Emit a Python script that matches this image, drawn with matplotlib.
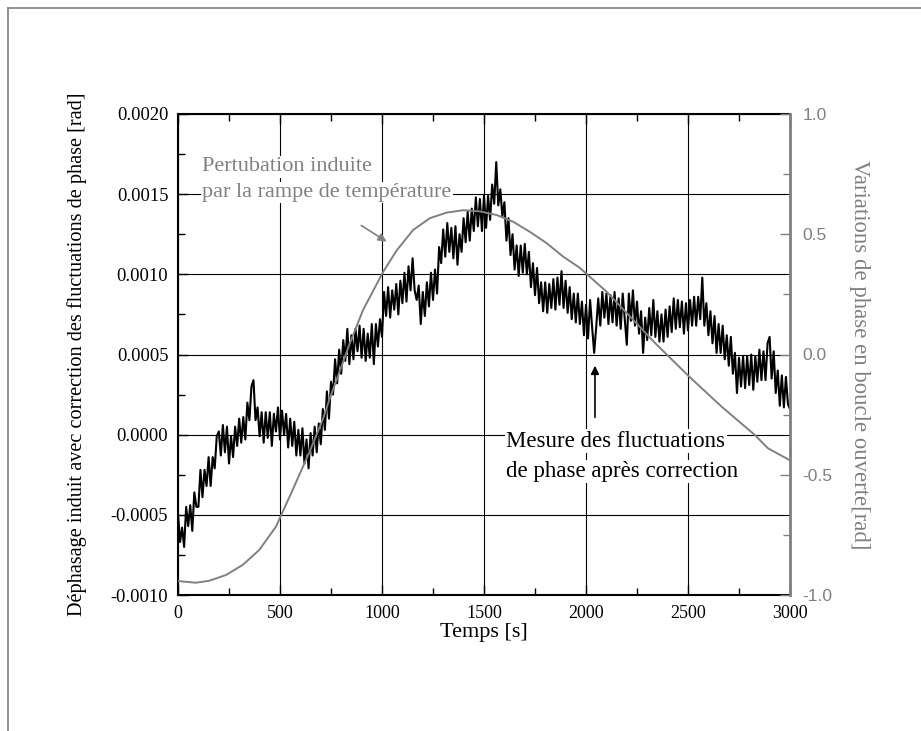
import numpy as np
import matplotlib
matplotlib.use("Agg")
import matplotlib.pyplot as plt
from matplotlib.lines import Line2D
from matplotlib.ticker import MultipleLocator

# ---------------- data ----------------
# measured phase fluctuations after correction, sampled every 10 s, in units of 1e-4 rad
time_step = 10
phase_corr_e4 = [
    -4.9, -6.7, -5.8, -7.0, -4.5, -5.7, -4.4, -6.0, -3.6, -4.5,
    -4.5, -2.2, -3.9, -2.2, -3.2, -1.4, -3.2, -1.4, -2.1, -0.1,
    0.2, -1.3, 0.6, -1.1, 0.5, -1.8, -0.1, -1.4, 0.5, -0.7,
    1.0, -0.5, 1.1, -0.3, 2.0, 0.9, 3.0, 3.4, 0.9, 1.7,
    -0.1, 1.4, -0.5, 1.4, -0.2, 1.4, -0.7, 1.3, 0.2, 1.7,
    -0.3, 1.5, 0.0, 1.3, -0.8, 1.0, -0.7, 0.8, -1.3, 0.3,
    -1.3, 0.4, -1.8, -0.3, -2.1, 0.1, -1.3, 0.5, -1.1, 0.7,
    -0.6, 1.6, 0.3, 2.7, 1.0, 3.3, 2.5, 4.7, 3.2, 5.3,
    3.8, 5.9, 4.6, 6.6, 4.4, 6.2, 4.7, 6.6, 5.2, 6.8,
    4.8, 6.6, 4.6, 6.3, 4.8, 6.9, 4.4, 6.9, 5.5, 7.2,
    6.1, 8.9, 7.4, 9.2, 7.3, 9.0, 7.8, 9.4, 7.5, 9.6,
    8.2, 10.1, 8.3, 10.5, 9.0, 11.0, 9.0, 8.4, 9.3, 6.9,
    8.9, 7.4, 9.5, 8.0, 10.1, 8.4, 10.3, 8.8, 11.7, 10.7,
    12.8, 11.1, 13.2, 11.4, 12.9, 11.0, 13.0, 10.6, 12.5, 11.4,
    13.5, 12.0, 13.9, 12.1, 14.1, 12.7, 14.8, 13.0, 14.7, 12.7,
    14.9, 12.9, 14.9, 13.4, 15.6, 14.4, 17.0, 14.3, 15.3, 13.6,
    14.5, 12.1, 13.5, 11.2, 12.5, 10.3, 11.8, 9.9, 11.8, 10.1,
    11.9, 10.0, 11.4, 9.2, 10.7, 8.7, 10.4, 8.2, 9.5, 7.7,
    9.5, 7.6, 9.4, 7.9, 9.7, 7.8, 9.8, 8.1, 10.2, 7.9,
    9.6, 7.6, 9.2, 7.2, 8.8, 7.0, 8.8, 6.9, 8.3, 6.2,
    8.1, 6.0, 8.4, 6.7, 5.1, 6.7, 8.5, 6.8, 8.9, 7.3,
    8.8, 6.9, 8.7, 7.0, 8.9, 6.8, 8.5, 6.6, 8.8, 7.2,
    5.6, 8.8, 7.1, 9.0, 6.8, 8.3, 6.3, 7.7, 5.1, 7.3,
    5.9, 7.9, 6.2, 8.4, 6.1, 7.7, 5.8, 7.5, 5.8, 7.8,
    6.1, 8.0, 6.4, 8.5, 6.6, 8.4, 6.7, 8.3, 6.3, 8.2,
    6.5, 8.4, 6.8, 8.6, 6.8, 8.6, 7.2, 9.8, 6.8, 8.2,
    6.2, 7.7, 5.7, 7.4, 5.1, 6.9, 5.1, 6.8, 4.7, 6.2,
    4.3, 6.1, 3.8, 5.1, 2.6, 4.8, 3.0, 4.9, 2.9, 4.9,
    3.1, 5.0, 2.8, 4.9, 3.3, 5.3, 3.4, 5.2, 3.4, 5.7,
    6.1, 3.5, 5.2, 2.6, 4.0, 1.8, 3.7, 1.7, 3.6, 1.9,
    1.6,
]

# open-loop phase variation (right axis), rad
ramp_time = [0, 88, 152, 235, 317, 398, 480, 562, 642, 709, 741, 843, 907,
             1006, 1072, 1153, 1235, 1317, 1399, 1480, 1562, 1643, 1725, 1807,
             1888, 1970, 2101, 2199, 2338, 2506, 2665, 2828, 2892, 3000]
ramp_phase = [-0.942, -0.949, -0.941, -0.917, -0.875, -0.813, -0.716, -0.563,
              -0.41, -0.272, -0.19, 0.048, 0.185, 0.344, 0.433, 0.518, 0.567,
              0.59, 0.60, 0.595, 0.58, 0.552, 0.51, 0.463, 0.407, 0.36, 0.261,
              0.173, 0.048, -0.092, -0.217, -0.335, -0.39, -0.44]

left_ticks = [-0.0010, -0.0005, 0.0000, 0.0005, 0.0010, 0.0015, 0.0020]
right_ticks = [-1.0, -0.5, 0.0, 0.5, 1.0]
x_ticks = [0, 500, 1000, 1500, 2000, 2500, 3000]

# ---------------- plot ----------------
t = np.arange(len(phase_corr_e4)) * time_step
phase_corr = np.array(phase_corr_e4) * 1e-4

GRAY = "#808080"
SERIF = ["Liberation Serif", "DejaVu Serif"]
SANS = ["Liberation Sans", "DejaVu Sans"]

fig = plt.figure(figsize=(9.21, 7.31), dpi=100)
ax = fig.add_axes([178 / 921, 1 - 595 / 731, 612 / 921, 481 / 731])
ax2 = ax.twinx()

ax.plot(t, phase_corr, color="black", lw=1.5, zorder=3)
ax2.plot(ramp_time, ramp_phase, color=GRAY, lw=1.4, zorder=4)

ax.set_xlim(0, 3000)
ax.set_ylim(-0.0010, 0.0020)
ax2.set_ylim(-1.0, 1.0)

ax.set_xticks(x_ticks)
ax.set_xticklabels([str(v) for v in x_ticks], fontfamily=SERIF, fontsize=13)
ax.set_yticks(left_ticks)
ax.set_yticklabels([f"{v:.4f}" for v in left_ticks], fontfamily=SERIF, fontsize=13.3)
ax.xaxis.set_minor_locator(MultipleLocator(250))
ax.yaxis.set_minor_locator(MultipleLocator(0.00025))
ax.tick_params(which="both", direction="in", top=True, right=False, color="black")
ax.tick_params(which="major", length=7, width=1, pad=7)
ax.tick_params(which="minor", length=5, width=1)
ax.grid(True, which="major", color="black", lw=0.8)
ax.set_axisbelow(True)

ax2.set_yticks(right_ticks)
ax2.set_yticklabels([f"{v:.1f}" for v in right_ticks], fontfamily=SANS,
                    fontsize=12.5, color=GRAY)
ax2.yaxis.set_minor_locator(MultipleLocator(0.25))
ax2.tick_params(which="both", direction="in", color=GRAY)
ax2.tick_params(which="major", length=7, width=1, pad=9)
ax2.tick_params(which="minor", length=5, width=1)

for s in ["left", "bottom", "top"]:
    ax.spines[s].set_linewidth(1.5)
ax2.spines["right"].set_color(GRAY)
ax2.spines["right"].set_linewidth(2)
for s in ["left", "bottom", "top"]:
    ax2.spines[s].set_visible(False)

ax.set_xlabel("Temps [s]", fontfamily=SERIF, fontsize=16, labelpad=1)
ax.set_ylabel("Déphasage induit avec correction des fluctuations de phase [rad]",
              fontfamily=SERIF, fontsize=14.6, labelpad=17)
ax2.set_ylabel("Variations de phase en boucle ouverte[rad]", fontfamily=SERIF,
               fontsize=16.4, color=GRAY, rotation=270, labelpad=27)

# annotations
box = dict(facecolor="white", edgecolor="none", pad=1)
ax.text(118, 0.00167, "Pertubation induite", fontfamily=SERIF, fontsize=16,
        color=GRAY, va="center", ha="left", bbox=box, zorder=5)
ax.text(118, 0.00151, "par la rampe de température", fontfamily=SERIF, fontsize=16,
        color=GRAY, va="center", ha="left", bbox=box, zorder=5)
ax.annotate("", xy=(1034, 0.001195), xytext=(887, 0.001314),
            arrowprops=dict(arrowstyle="-|>", color=GRAY, lw=1.2,
                            mutation_scale=12), zorder=5)

ax.text(1610, -0.00004, "Mesure des fluctuations", fontfamily=SERIF, fontsize=16.5,
        color="black", va="center", ha="left", bbox=box, zorder=5)
ax.text(1610, -0.00023, "de phase après correction", fontfamily=SERIF, fontsize=16.5,
        color="black", va="center", ha="left", bbox=box, zorder=5)
ax.annotate("", xy=(2044, 0.000447), xytext=(2044, 0.000091),
            arrowprops=dict(arrowstyle="-|>", color="black", lw=1.2,
                            mutation_scale=12), zorder=5)

# page frame (left and top edges)
fig.add_artist(Line2D([8 / 921, 8 / 921], [0, 1 - 8 / 731], transform=fig.transFigure,
                      color=GRAY, lw=1.2))
fig.add_artist(Line2D([8 / 921, 1], [1 - 8 / 731, 1 - 8 / 731], transform=fig.transFigure,
                      color=GRAY, lw=1.2))

fig.savefig("out.png", dpi=100)
